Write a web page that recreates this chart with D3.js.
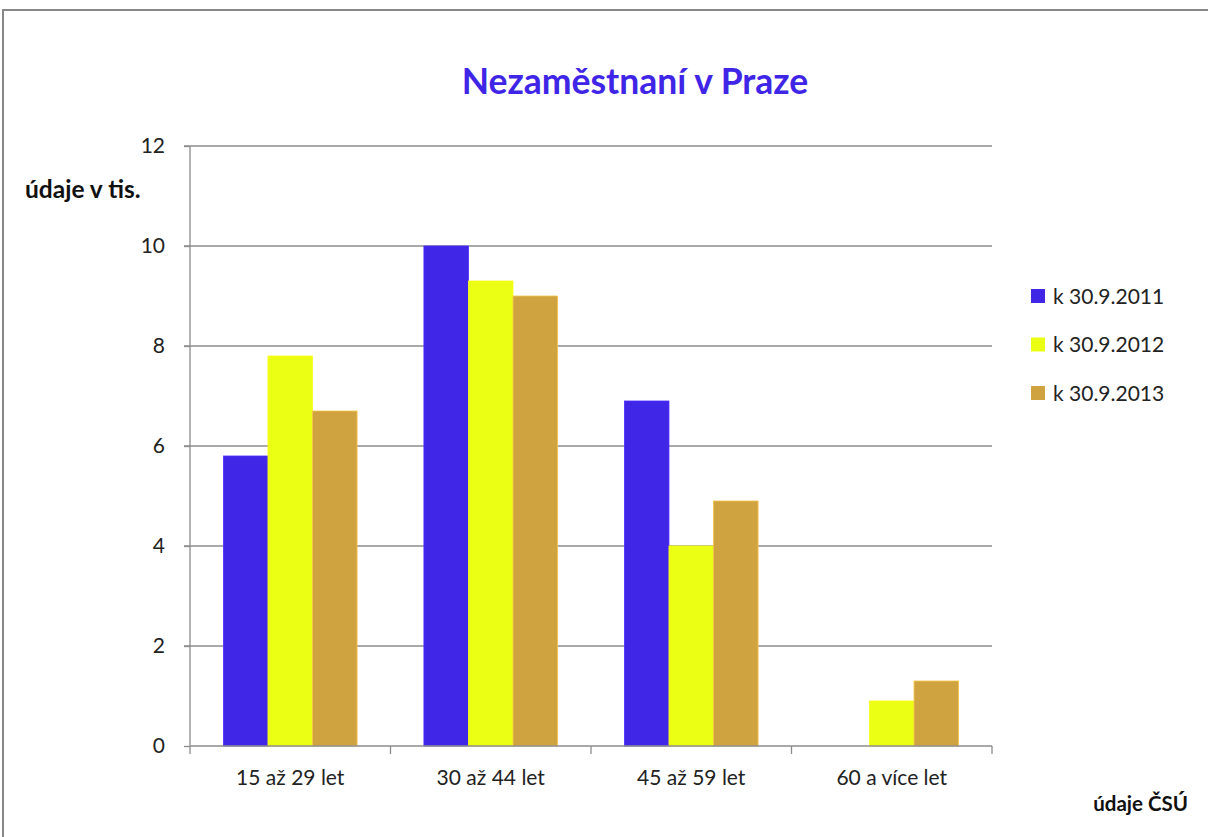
<!DOCTYPE html>
<html>
<head>
<meta charset="utf-8">
<script src="https://cdn.jsdelivr.net/npm/d3@7"></script>
<style>
  body { margin: 0; background: #fff; }
  svg { display: block; font-family: Lato, "Open Sans", sans-serif; }
</style>
</head>
<body>
<svg id="chart" width="1208" height="837"></svg>
<script>
// data
var categories = ['15 až 29 let', '30 až 44 let', '45 až 59 let', '60 a více let'];
var seriesNames = ['k 30.9.2011', 'k 30.9.2012', 'k 30.9.2013'];
var values2011 = [5.8, 10, 6.9, 0];
var values2012 = [7.8, 9.3, 4.0, 0.9];
var values2013 = [6.7, 9.0, 4.9, 1.3];
var yTicks = [0, 2, 4, 6, 8, 10, 12];
var colors = ['#4026e6', '#eaff14', '#cfa440'];

var series = [values2011, values2012, values2013];

var svg = d3.select('#chart');
var margin = {top: 146, left: 190, right: 216, bottom: 91}
  , width = 1208 - margin.left - margin.right
  , height = 837 - margin.top - margin.bottom;

// outer border
svg.append('rect')
    .attr('x', 3).attr('y', 10)
    .attr('width', 1220).attr('height', 840)
    .attr('fill', 'none')
    .attr('stroke', '#888').attr('stroke-width', 2);

// title
svg.append('text')
    .attr('x', 635).attr('y', 94)
    .attr('text-anchor', 'middle')
    .attr('font-size', 35.5).attr('font-weight', 'bold')
    .attr('fill', '#3f25e6')
    .text('Nezaměstnaní v Praze');

var g = svg.append('g')
    .attr('transform', 'translate(' + margin.left + ',' + margin.top + ')');

var x = d3.scaleBand().domain(categories).range([0, width]);
var x1 = d3.scaleBand().domain(d3.range(seriesNames.length))
    .range([0, x.bandwidth()]).paddingOuter(0.75).paddingInner(0);
var y = d3.scaleLinear().domain([0, 12]).range([height, 0]);

// gridlines
g.selectAll('.grid').data(yTicks.slice(1)).enter().append('line')
    .attr('x1', -6).attr('x2', width)
    .attr('y1', function(d) { return y(d); })
    .attr('y2', function(d) { return y(d); })
    .attr('stroke', '#8c8c8c').attr('stroke-width', 1.3);

// bars
categories.forEach(function(c, ci) {
  series.forEach(function(s, si) {
    if (!s[ci]) return;
    g.append('rect')
        .attr('x', x(c) + x1(si))
        .attr('y', y(s[ci]))
        .attr('width', x1.bandwidth())
        .attr('height', height - y(s[ci]))
        .attr('fill', colors[si])
        .attr('stroke', d3.color(colors[si]).brighter(0.5))
        .attr('stroke-width', 0.8);
  });
});

// y axis
var yAxis = g.append('g')
    .call(d3.axisLeft(y).tickValues(yTicks).tickSize(6).tickPadding(19));
yAxis.select('.domain').attr('stroke', '#8c8c8c').attr('stroke-width', 1.3).attr('d', 'M0,0V' + height);
yAxis.selectAll('.tick line').attr('stroke', '#8c8c8c').attr('stroke-width', 1.3);
yAxis.selectAll('text').attr('font-size', 21).attr('fill', '#222').attr('font-family', 'Lato, sans-serif');

// x axis
var xAxis = g.append('g')
    .attr('transform', 'translate(0,' + height + ')')
    .call(d3.axisBottom(x).tickSize(0).tickPadding(24));
xAxis.select('.domain').attr('stroke', '#8c8c8c').attr('stroke-width', 1.3).attr('d', 'M0,0H' + width);
xAxis.selectAll('text').attr('font-size', 21).attr('fill', '#222').attr('font-family', 'Lato, sans-serif');
xAxis.selectAll('.sep').data(d3.range(categories.length + 1)).enter().append('line')
    .attr('x1', function(i) { return i * x.step(); })
    .attr('x2', function(i) { return i * x.step(); })
    .attr('y1', 0).attr('y2', 8)
    .attr('stroke', '#8c8c8c').attr('stroke-width', 1.3);

// y label
svg.append('text')
    .attr('x', 25).attr('y', 198)
    .attr('font-size', 24.5).attr('font-weight', 'bold').attr('fill', '#111')
    .text('údaje v tis.');

// source
svg.append('text')
    .attr('x', 1188).attr('y', 811)
    .attr('text-anchor', 'end')
    .attr('font-size', 20.5).attr('font-weight', 'bold').attr('fill', '#111')
    .text('údaje ČSÚ');

// legend
var legend = svg.append('g').attr('transform', 'translate(1031,296)');
var li = legend.selectAll('g').data(seriesNames).enter().append('g')
    .attr('transform', function(d, i) { return 'translate(0,' + (i * 48.5) + ')'; });
li.append('rect')
    .attr('x', 0).attr('y', -7).attr('width', 14).attr('height', 14)
    .attr('fill', function(d, i) { return colors[i]; });
li.append('text')
    .attr('x', 22).attr('y', 7.5)
    .attr('font-size', 21).attr('fill', '#222')
    .text(function(d) { return d; });
</script>
</body>
</html>
